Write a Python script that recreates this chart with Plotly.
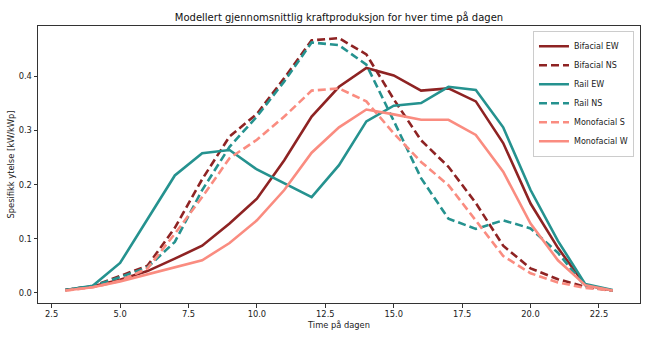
import plotly.graph_objects as go

hours = list(range(3, 24))

bifacial_ew = [0.005, 0.012, 0.024, 0.040, 0.063, 0.087, 0.128, 0.174, 0.245, 0.326, 0.381, 0.416, 0.402, 0.374, 0.378, 0.354, 0.277, 0.165, 0.083, 0.014, 0.004]
bifacial_ns = [0.005, 0.012, 0.031, 0.050, 0.120, 0.210, 0.289, 0.331, 0.397, 0.467, 0.471, 0.441, 0.358, 0.282, 0.233, 0.166, 0.087, 0.045, 0.025, 0.011, 0.004]
rail_ew = [0.005, 0.013, 0.055, 0.137, 0.217, 0.258, 0.264, 0.228, 0.202, 0.177, 0.236, 0.317, 0.346, 0.351, 0.381, 0.375, 0.306, 0.190, 0.096, 0.016, 0.005]
rail_ns = [0.005, 0.012, 0.029, 0.047, 0.094, 0.190, 0.270, 0.326, 0.391, 0.463, 0.458, 0.422, 0.318, 0.212, 0.137, 0.118, 0.134, 0.119, 0.074, 0.012, 0.004]
mono_s = [0.004, 0.010, 0.022, 0.045, 0.109, 0.177, 0.249, 0.283, 0.326, 0.374, 0.378, 0.354, 0.295, 0.242, 0.199, 0.134, 0.068, 0.036, 0.019, 0.009, 0.004]
mono_w = [0.004, 0.010, 0.021, 0.034, 0.047, 0.060, 0.092, 0.134, 0.190, 0.259, 0.306, 0.339, 0.330, 0.320, 0.320, 0.292, 0.224, 0.128, 0.060, 0.014, 0.004]

series = [
    ("Bifacial EW", bifacial_ew, "#8e2323", "solid"),
    ("Bifacial NS", bifacial_ns, "#8e2323", "8px,4px"),
    ("Rail EW", rail_ew, "#25928f", "solid"),
    ("Rail NS", rail_ns, "#25928f", "8px,4px"),
    ("Monofacial S", mono_s, "#fa8c80", "8px,4px"),
    ("Monofacial W", mono_w, "#fa8c80", "solid"),
]

fig = go.Figure()
for name, vals, color, dash in series:
    fig.add_trace(go.Scatter(x=hours, y=vals, mode="lines", name=name,
                             line=dict(color=color, width=2.6, dash=dash)))

font = "DejaVu Sans, sans-serif"
axis_common = dict(showgrid=False, zeroline=False, showline=True, linecolor="#333",
                   linewidth=1, mirror=True, ticks="outside", ticklen=3.5, tickcolor="#333",
                   automargin=False,
                   tickfont=dict(family=font, size=8.3, color="#222"))

L, R, T, B = 38, 10, 26, 40
fig.update_layout(
    width=650, height=343,
    margin=dict(l=L, r=R, t=T, b=B),
    paper_bgcolor="white", plot_bgcolor="white",
    title=dict(text="Modellert gjennomsnittlig kraftproduksjon for hver time på dagen",
               x=(L + (650 - R)) / 2 / 650, xanchor="center", y=1 - 17.5 / 343, yanchor="middle",
               font=dict(family=font, size=10, color="#111")),
    xaxis=dict(range=[2.0, 24.0], tick0=2.5, dtick=2.5, tickformat=".1f",
               title=dict(text="Time på dagen", font=dict(family=font, size=8.3, color="#222"), standoff=3),
               **axis_common),
    yaxis=dict(range=[-0.019, 0.4935], tick0=0, dtick=0.1, tickformat=".1f",
               title=dict(text="Spesifikk ytelse [kW/kWp]", font=dict(family=font, size=8.3, color="#222"), standoff=2),
               **axis_common),
    legend=dict(x=0.99, xanchor="right", y=0.983, yanchor="top",
                bgcolor="rgba(255,255,255,0.85)", bordercolor="#ccc", borderwidth=1,
                font=dict(family=font, size=8, color="#222"),
                tracegroupgap=0, itemwidth=30),
    showlegend=True,
)

fig.write_html("out.html")
